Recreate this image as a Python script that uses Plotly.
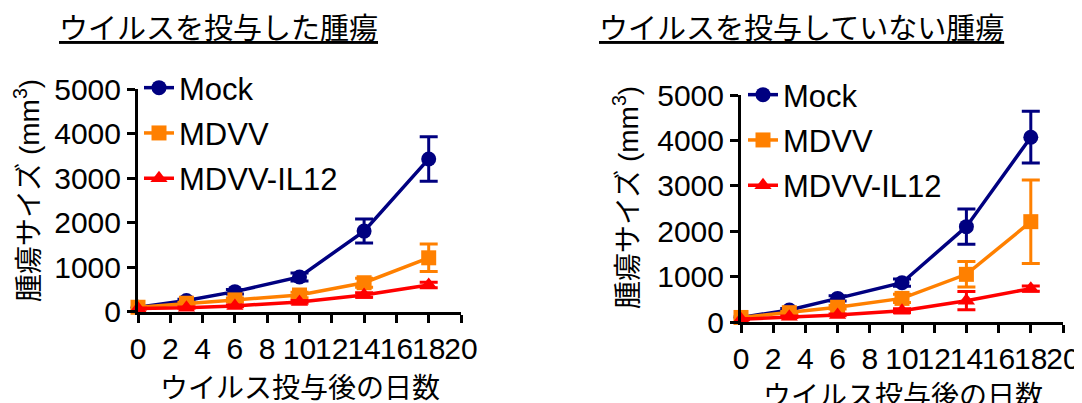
import plotly.graph_objects as go

# page body has an 8px margin; figure is sized to fill the rest of the 1082x403 window
OFF = 8
W, H = 1082 - OFF, 403 - OFF

days = [0, 3, 6, 10, 14, 18]
series_names = ["Mock", "MDVV", "MDVV-IL12"]

# Left panel: ウイルスを投与した腫瘍
mock_left = [100, 250, 450, 780, 1810, 3430]
mock_left_err = [10, 30, 50, 90, 270, 500]
mdvv_left = [100, 190, 265, 375, 650, 1210]
mdvv_left_err = [10, 20, 40, 60, 100, 310]
il12_left = [70, 90, 130, 220, 375, 600]
il12_left_err = [10, 15, 20, 30, 50, 60]

# Right panel: ウイルスを投与していない腫瘍
mock_right = [100, 265, 520, 865, 2100, 4070]
mock_right_err = [10, 30, 60, 80, 390, 570]
mdvv_right = [100, 205, 325, 520, 1050, 2210]
mdvv_right_err = [10, 25, 40, 90, 280, 920]
il12_right = [60, 115, 155, 250, 470, 735]
il12_right_err = [10, 15, 20, 40, 200, 60]

x_ticks = list(range(0, 21, 2))
y_ticks = [0, 1000, 2000, 3000, 4000, 5000]

panel_titles = ["ウイルスを投与した腫瘍", "ウイルスを投与していない腫瘍"]
x_title = "ウイルス投与後の日数"
y_title = "腫瘍サイズ (mm<sup>3</sup>)"

colors = ["#000080", "#FF8000", "#FF0000"]
symbols = ["circle", "square", "triangle-up"]

FONT = "Liberation Sans, Arial, Noto Sans CJK JP, sans-serif"

fig = go.Figure()

panels = [
    ([mock_left, mdvv_left, il12_left], [mock_left_err, mdvv_left_err, il12_left_err], "x", "y", "legend", "L"),
    ([mock_right, mdvv_right, il12_right], [mock_right_err, mdvv_right_err, il12_right_err], "x2", "y2", "legend2", "R"),
]

for vals, errs, xa, ya, leg, tag in panels:
    for name, v, e, c, s in zip(series_names, vals, errs, colors, symbols):
        fig.add_trace(go.Scatter(
            x=days, y=v, name=name, mode="lines+markers",
            xaxis=xa, yaxis=ya, legend=leg, legendgroup=tag + name,
            line=dict(color=c, width=3.5),
            marker=dict(color=c, symbol=s, size=15),
            error_y=dict(type="data", array=e, visible=True, color=c, thickness=3, width=9),
            cliponaxis=False,
        ))

def px2x(px):
    return (px - OFF) / W

def px2y(py):
    return 1 - (py - OFF) / H

axis_common = dict(showgrid=False, zeroline=False, showline=True, linecolor="black", linewidth=3,
                   ticks="outside", ticklen=8, tickwidth=2.5, tickcolor="black", automargin=False,
                   tickfont=dict(size=30, color="black", family=FONT), tickangle=0)

legend_common = dict(xanchor="left", yanchor="top", bgcolor="rgba(0,0,0,0)",
                     font=dict(size=31, color="black", family=FONT), itemwidth=30,
                     tracegroupgap=2, traceorder="grouped")

fig.update_layout(
    template="none",
    width=W, height=H,
    margin=dict(l=0, r=0, t=0, b=0, pad=0, autoexpand=False),
    paper_bgcolor="white", plot_bgcolor="white",
    font=dict(family=FONT, color="black"),
    xaxis=dict(domain=[px2x(138), px2x(461)], range=[0, 20], tickvals=x_ticks, anchor="y", **axis_common),
    yaxis=dict(domain=[px2y(311.7), px2y(89)], range=[0, 5000], tickvals=y_ticks, anchor="x", **axis_common),
    xaxis2=dict(domain=[px2x(741), px2x(1063)], range=[0, 20], tickvals=x_ticks, anchor="y2", **axis_common),
    yaxis2=dict(domain=[px2y(322), px2y(95)], range=[0, 5000], tickvals=y_ticks, anchor="x2", **axis_common),
    legend=dict(x=px2x(139), y=px2y(61), **legend_common),
    legend2=dict(x=px2x(743), y=px2y(68), **legend_common),
    showlegend=True,
)

annos = [
    dict(text="<u>" + panel_titles[0] + "</u>", x=px2x(218), y=px2y(29), size=29),
    dict(text="<u>" + panel_titles[1] + "</u>", x=px2x(801), y=px2y(29), size=29),
    dict(text=x_title, x=px2x(300), y=px2y(388), size=28),
    dict(text=x_title, x=px2x(903), y=px2y(396), size=28),
    dict(text=y_title, x=px2x(27), y=px2y(191), size=28, textangle=-90),
    dict(text=y_title, x=px2x(626), y=px2y(198), size=28, textangle=-90),
]
for a in annos:
    size = a.pop("size")
    fig.add_annotation(xref="paper", yref="paper", showarrow=False, xanchor="center", yanchor="middle",
                       font=dict(size=size, color="black", family=FONT), **a)

fig.write_html("out.html")
